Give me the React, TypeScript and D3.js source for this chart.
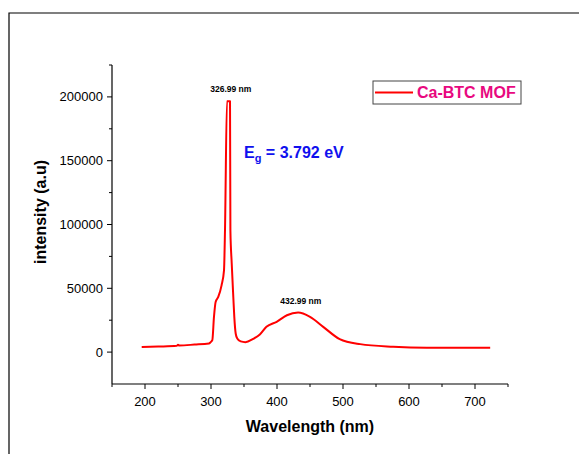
import React from "react";
import * as d3 from "d3";

// PL spectrum of Ca-BTC MOF
const wavelength = [
  195, 220, 248, 250, 252, 275, 297, 299, 302, 304.5, 307, 311, 316, 319.7, 321.2,
  324.2, 328.8, 329.4, 331.4, 333.8, 335.3, 337.4, 339.8, 345, 352, 364, 374, 384,
  399.5, 415, 432, 450, 470, 495, 526, 576, 627, 680, 723,
];
const intensity = [
  3900, 4300, 4900, 5700, 5200, 5900, 6800, 7600, 9400, 27600, 39300, 43200, 52300, 64000, 95300,
  196500, 196500, 95300, 69500, 43200, 27600, 14600, 10700, 8400, 7800, 10400, 13800, 19800,
  23700, 28900, 31000, 27600, 19800, 10200, 6250, 4200, 3400, 3350, 3350,
];

const xTicks = [200, 300, 400, 500, 600, 700];
const xMinor = [150, 250, 350, 450, 550, 650, 750];
const yTicks = [0, 50000, 100000, 150000, 200000];
const yMinor = [25000, 75000, 125000, 175000, 225000];

const peakNames = ["326.99 nm", "432.99 nm"];
const peakX = [326.99, 432.99];
const peakY = [196500, 31000];

const seriesName = "Ca-BTC MOF";

const W = 579;
const H = 454;
const font = "'Liberation Sans', Arial, sans-serif";

export default function App() {
  const x = d3.scaleLinear().domain([150, 750]).range([112, 508]);
  const y = d3.scaleLinear().domain([-25000, 225000]).range([384, 65]);

  const line = d3
    .line<number>()
    .x((_, i) => x(wavelength[i]))
    .y((d) => y(d))
    .curve(d3.curveMonotoneX);

  const [x0, x1] = x.range();
  const [y0, y1] = y.range();

  return (
    <svg
      width={W}
      height={H}
      style={{ position: "absolute", left: 0, top: 0, background: "#fff" }}
      fontFamily={font}
    >
      {/* outer frame */}
      <path d={`M9,${H} V13 H${W}`} fill="none" stroke="#000" strokeWidth={1.2} />

      {/* axes */}
      <line x1={x0} x2={x0} y1={y0} y2={y1} stroke="#000" strokeWidth={1.2} />
      <line x1={x0} x2={x1} y1={y0} y2={y0} stroke="#000" strokeWidth={1.2} />

      {yTicks.map((t) => (
        <g key={"y" + t}>
          <line x1={x0 - 5} x2={x0} y1={y(t)} y2={y(t)} stroke="#000" />
          <text x={x0 - 9} y={y(t)} dy="0.35em" textAnchor="end" fontSize={13}>
            {t}
          </text>
        </g>
      ))}
      {yMinor.map((t) => (
        <line key={"ym" + t} x1={x0 - 3} x2={x0} y1={y(t)} y2={y(t)} stroke="#000" />
      ))}

      {xTicks.map((t) => (
        <g key={"x" + t}>
          <line x1={x(t)} x2={x(t)} y1={y0} y2={y0 + 5} stroke="#000" />
          <text x={x(t)} y={y0 + 22} textAnchor="middle" fontSize={13}>
            {t}
          </text>
        </g>
      ))}
      {xMinor.map((t) => (
        <line key={"xm" + t} x1={x(t)} x2={x(t)} y1={y0} y2={y0 + 3} stroke="#000" />
      ))}

      {/* axis titles */}
      <text x={(x0 + x1) / 2} y={432} textAnchor="middle" fontSize={16} fontWeight="bold">
        Wavelength (nm)
      </text>
      <text
        transform={`translate(46,212) rotate(-90)`}
        textAnchor="middle"
        fontSize={16}
        fontWeight="bold"
      >
        intensity (a.u)
      </text>

      {/* spectrum */}
      <path d={line(intensity) ?? ""} fill="none" stroke="#ff0000" strokeWidth={2} strokeLinejoin="round" />

      {/* peak labels */}
      {peakNames.map((n, i) => (
        <text
          key={n}
          x={x(peakX[i]) + 2}
          y={y(peakY[i]) - 9}
          textAnchor="middle"
          fontSize={8.5}
          fontWeight="bold"
        >
          {n}
        </text>
      ))}

      {/* band gap */}
      <text x={244} y={158} fontSize={16} fontWeight="bold" fill="#1010ee">
        E<tspan fontSize={11} dy={4}>g</tspan>
        <tspan dy={-4}> = 3.792 eV</tspan>
      </text>

      {/* legend */}
      <rect x={373} y={81} width={148} height={23} fill="#fff" stroke="#444" strokeWidth={1} />
      <line x1={375} x2={413} y1={92.5} y2={92.5} stroke="#ff0000" strokeWidth={2} />
      <text x={417} y={98} fontSize={16} fontWeight="bold" fill="#e8087f">
        {seriesName}
      </text>
    </svg>
  );
}
